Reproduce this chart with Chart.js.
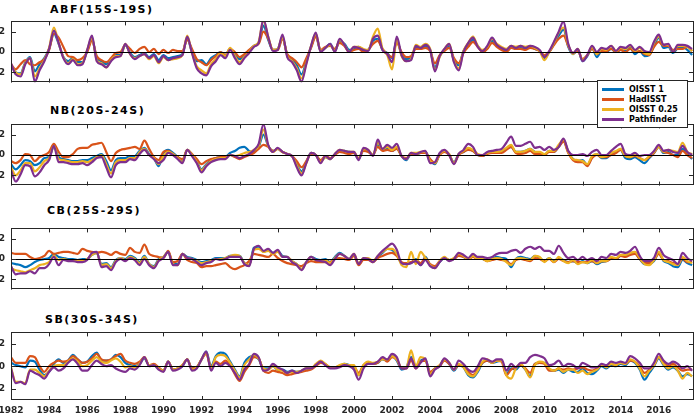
<!DOCTYPE html>
<html>
<head>
<meta charset="utf-8">
<script src="https://cdn.jsdelivr.net/npm/chart.js@4.4.1/dist/chart.umd.min.js"></script>
<style>
  html, body { margin: 0; padding: 0; background: #fff; }
  body { position: relative; width: 697px; height: 416px; overflow: hidden; }
  canvas { position: absolute; left: -20px; }
  .ttl { position: absolute; font-family: "DejaVu Sans", sans-serif; font-weight: bold; font-size: 11px; line-height: 11px; letter-spacing: 1.5px; color: #000; white-space: nowrap; }
  #legend { position: absolute; left: 597px; top: 80px; width: 89px; height: 46px; border: 1px solid #262626; background: #fff; z-index: 5; }
  .lrow { position: absolute; left: 0; height: 10px; width: 89px; }
  .lline { position: absolute; left: 4px; top: 4px; width: 22px; height: 3px; }
  .ltxt { position: absolute; left: 31px; top: 0; font-family: "DejaVu Sans", sans-serif; font-weight: bold; font-size: 8px; line-height: 11px; color: #000; white-space: nowrap; }
</style>
</head>
<body>
<div class="ttl" style="left:50px;top:4px">ABF(15S-19S)</div>
<div class="ttl" style="left:50px;top:105px">NB(20S-24S)</div>
<div class="ttl" style="left:47px;top:205px">CB(25S-29S)</div>
<div class="ttl" style="left:45px;top:314px">SB(30S-34S)</div>
<canvas id="c1" width="720" height="84" style="top:10px"></canvas>
<canvas id="c2" width="720" height="84" style="top:113px"></canvas>
<canvas id="c3" width="720" height="84" style="top:217px"></canvas>
<canvas id="c4" width="720" height="95" style="top:321px"></canvas>
<div id="legend"></div>
<script>
// ---- categories / ticks ----
const seriesNames = ['OISST 1', 'HadISST', 'OISST 0.25', 'Pathfinder'];
const panelTitles = ['ABF(15S-19S)', 'NB(20S-24S)', 'CB(25S-29S)', 'SB(30S-34S)'];
const xTickValues = [1982,1984,1986,1988,1990,1992,1994,1996,1998,2000,2002,2004,2006,2008,2010,2012,2014,2016];
const yTickValues = [-2, 0, 2];
// quarterly time stamps, 1982.00 ... 2017.75
const quarters = Array.from({length: 144}, (_, i) => 1982 + i / 4);

// ---- ABF(15S-19S) ----
const abfOisst1 = [-1.3,-2.0,-2.1,-1.0, -0.5,-1.9,-1.2,-0.6, 0.3,1.8,0.8,-0.5, -0.9,-0.6,-1.0,-1.0, 0.1,1.3,-0.6,-0.9, -1.2,-0.7,-0.3,-0.3, 0.7,-0.1,-0.5,-0.3, -0.1,-0.5,-0.2,-0.8, -0.3,-0.6,-0.5,-0.4, -0.2,1.3,0.0,-0.9, -0.8,-1.2,-0.6,-0.3, 0.0,-0.3,0.3,-0.3, -0.7,-0.3,0.1,0.6, 0.9,2.6,1.2,0.2, 0.3,1.4,-0.3,-0.7, -1.3,-2.2,-0.9,0.5, 1.6,0.1,0.4,0.8, 0.1,1.1,0.8,0.2,
 0.3,0.5,0.1,0.2, 1.1,1.3,0.2,-0.1, -0.6,1.2,-0.3,-0.7, -0.6,0.5,0.4,0.6, 0.2,-1.5,-0.4,0.2, 0.6,-0.8,-1.3,0.1, 0.7,1.2,0.6,0.0, 0.4,1.1,0.7,0.3, 0.1,0.5,0.3,0.4, 0.3,0.5,0.3,0.1, -0.6,0.0,0.8,1.6, 2.2,0.5,-0.2,0.2, -0.9,-0.4,0.4,-0.5, 0.1,0.0,0.3,0.0, 0.2,0.1,0.4,-0.2, 0.1,-0.4,-0.3,0.6, 1.4,0.4,0.5,-0.1, 0.4,0.5,0.2,-0.3];
const abfHadisst = [-1.2,-1.7,-1.2,-0.8, -1.2,-1.3,-1.0,-0.7, 0.2,1.8,1.4,0.5, -0.4,-0.5,-0.8,-0.6, 0.0,1.1,-0.4,-0.8, -1.0,-0.6,-0.1,0.0, 0.7,0.3,-0.1,0.3, 0.5,0.0,0.3,-0.2, 0.2,-0.1,0.2,0.1, 0.1,1.2,0.3,-0.7, -1.0,-1.3,-0.8,-0.4, 0.0,-0.3,0.3,0.0, -0.5,-0.2,0.2,0.6, 0.8,2.0,1.3,0.2, 0.2,1.3,-0.2,-0.6, -1.0,-1.5,-0.6,0.4, 1.5,0.2,0.5,0.6, 0.3,0.9,0.6,0.0,
 0.2,0.3,0.0,0.2, 0.8,1.1,0.3,-0.2, -0.5,0.9,0.0,-0.5, -0.4,0.3,0.3,0.4, 0.1,-1.1,-0.3,0.1, 0.4,-0.6,-1.1,-0.1, 0.5,1.0,0.5,0.0, 0.3,0.9,0.5,0.2, 0.0,0.4,0.3,0.3, 0.2,0.4,0.3,0.1, -0.3,0.0,0.7,1.3, 1.6,0.6,-0.1,0.1, -0.7,-0.3,0.3,-0.2, 0.1,0.1,0.3,0.0, 0.2,0.0,0.3,0.0, 0.1,-0.2,-0.3,0.5, 1.0,0.6,0.6,0.2, 0.3,0.3,0.5,0.1];
const abfOisst025 = [-1.2,-2.0,-2.2,-1.1, -0.6,-2.4,-1.6,-0.8, 0.4,2.4,0.9,-0.5, -1.1,-0.7,-1.2,-1.1, 0.2,1.4,-0.8,-1.1, -1.5,-0.8,-0.4,-0.4, 0.8,-0.2,-0.6,-0.4, -0.2,-0.7,-0.4,-1.1, -0.5,-0.8,-0.7,-0.6, -0.3,1.6,-0.1,-1.4, -1.8,-2.1,-1.2,-0.7, -0.1,-0.4,0.4,-0.4, -1.0,-0.5,0.0,0.6, 1.0,3.1,1.5,0.2, 0.3,1.5,-0.4,-0.9, -1.6,-2.6,-1.1,0.6, 1.8,0.1,0.4,0.7, 0.1,1.2,0.7,0.0,
 0.5,0.5,0.3,0.2, 1.5,2.3,0.3,-0.3, -1.7,1.2,-0.4,-0.9, -0.7,0.7,0.5,0.8, 0.3,-1.8,-0.5,0.3, 0.8,-0.9,-1.6,0.1, 0.9,1.5,0.6,0.2, 0.5,1.3,0.8,0.5, 0.3,0.6,0.5,0.6, 0.5,0.6,0.4,0.1, -0.8,0.0,0.9,1.9, 2.4,0.7,-0.2,0.3, -0.8,-0.3,0.5,-0.2, 0.3,0.2,0.6,0.1, 0.4,0.3,0.6,0.1, 0.4,-0.1,-0.2,0.9, 1.5,0.7,0.7,0.0, 0.6,0.6,0.5,0.1];
const abfPathfinder = [-1.1,-2.2,-2.4,-1.2, -0.6,-2.9,-1.8,-0.9, 0.3,2.1,0.9,-0.6, -1.2,-0.8,-1.3,-1.2, 0.2,1.6,-0.9,-1.2, -1.5,-0.9,-0.5,-0.4, 0.8,-0.2,-0.7,-0.4, -0.2,-0.6,-0.3,-1.0, -0.4,-0.8,-0.6,-0.5, -0.3,1.5,-0.1,-1.6, -2.1,-2.3,-1.4,-0.9, -0.3,-0.6,0.2,-0.6, -1.2,-0.6,-0.1,0.5, 0.9,3.2,1.5,0.1, 0.2,1.7,-0.5,-1.0, -1.8,-2.9,-1.2,0.6, 1.9,0.0,0.4,0.8, 0.0,1.3,0.7,0.0,
 0.5,0.4,0.2,0.1, 1.3,1.6,0.2,-0.2, -1.0,1.5,-0.3,-0.9, -0.8,0.6,0.4,0.7, 0.2,-1.9,-0.4,0.3, 0.8,-1.0,-1.8,0.0, 0.9,1.4,0.5,0.1, 0.6,1.4,0.7,0.4, 0.2,0.6,0.4,0.6, 0.4,0.6,0.5,0.2, -0.5,0.1,1.0,2.0, 3.0,0.8,-0.1,0.3, -0.9,-0.3,0.6,0.0, 0.4,0.3,0.6,0.1, 0.5,0.4,0.7,0.2, 0.5,0.1,0.0,1.0, 1.7,0.7,0.8,0.0, 0.7,0.7,0.6,0.3];

// ---- NB(20S-24S) ----
const nbOisst1 = [-0.9,-1.4,-1.0,-0.5, -0.6,-1.0,-0.8,-0.3, -0.2,0.8,-0.2,-0.4, -0.5,-0.6,-0.6,-0.5, -0.5,-0.3,-0.1,0.1, -0.6,-1.5,-0.5,-0.3, -0.3,-0.1,-0.1,0.4, 0.7,0.1,-0.3,-1.1, 0.2,0.5,0.2,-0.2, -0.6,0.5,0.0,-0.6, -1.4,-0.9,-0.5,-0.3, -0.2,-0.2,0.2,0.4, 0.7,0.8,0.4,0.3, 0.8,2.0,0.9,0.4, 0.6,0.3,0.1,-0.1, -0.9,-1.6,-0.7,0.2, 0.0,-0.6,-0.2,-0.4, 0.1,0.4,0.4,0.3,
 0.2,-0.4,0.5,0.4, 0.0,1.0,0.5,0.6, 0.4,0.7,-0.1,-0.5, 0.1,0.1,0.2,0.3, -0.5,-0.9,0.1,0.4, 0.0,-0.7,0.1,0.3, 0.6,0.4,0.0,-0.1, 0.2,0.3,0.2,0.3, 0.6,0.8,0.3,0.3, 0.4,0.6,0.3,0.2, 0.0,0.4,0.3,0.8, 1.4,0.3,-0.4,-0.6, -0.5,-1.0,-0.2,0.1, -0.3,-0.3,0.1,0.3, 0.5,-0.3,-0.4,-0.2, -0.5,-0.8,-0.3,0.2, 0.8,0.2,0.3,0.0, 0.0,0.6,0.1,-0.4];
const nbHadisst = [-0.6,-0.8,-0.5,0.1, 0.0,-0.6,-0.2,0.0, 0.3,1.1,0.3,-0.2, -0.2,0.1,0.6,0.7, 0.7,1.0,1.1,1.2, 0.3,-0.6,0.2,0.5, 0.6,0.7,0.8,0.6, 1.4,0.6,-0.2,-0.5, 0.3,0.4,0.1,-0.2, -0.4,0.5,0.1,-0.4, -0.9,-0.6,-0.4,-0.3, -0.2,-0.2,0.0,-0.2, -0.4,-0.2,0.0,0.2, 0.6,1.0,0.8,0.4, 0.6,0.3,0.1,-0.1, -0.6,-1.2,-0.6,0.1, 0.0,-0.5,-0.1,-0.3, 0.0,0.3,0.2,0.1,
 0.2,-0.3,0.4,0.3, 0.0,0.8,0.4,0.5, 0.4,0.6,-0.1,-0.3, 0.1,0.1,0.2,0.2, -0.4,-0.8,0.0,0.3, 0.0,-0.8,0.0,0.3, 0.5,0.4,0.0,-0.1, 0.1,0.2,0.2,0.2, 0.5,0.8,0.2,0.1, 0.2,0.4,0.1,0.1, 0.0,0.3,0.3,0.8, 1.3,0.2,-0.5,-0.7, -0.7,-1.1,-0.3,0.0, -0.2,-0.2,0.0,0.2, 0.5,-0.1,-0.2,-0.1, -0.3,-0.5,-0.2,0.2, 0.8,0.3,0.2,0.0, -0.2,0.4,0.0,-0.3];
const nbOisst025 = [-1.2,-2.0,-1.5,-0.8, -0.8,-1.6,-1.2,-0.6, -0.3,0.9,-0.4,-0.5, -0.6,-0.7,-0.7,-0.6, -0.7,-0.5,-0.2,0.0, -0.9,-1.8,-0.7,-0.5, -0.5,-0.3,-0.3,0.3, 0.6,0.0,-0.3,-0.9, -0.1,0.3,0.1,-0.3, -0.7,0.5,0.0,-0.7, -1.5,-1.0,-0.6,-0.4, -0.3,-0.3,0.0,-0.1, 0.0,0.2,0.3,0.5, 0.9,2.5,0.9,0.3, 0.6,0.3,0.1,-0.1, -1.0,-1.8,-0.8,0.2, 0.0,-0.7,-0.2,-0.4, 0.1,0.5,0.4,0.3,
 0.3,-0.4,0.6,0.5, 0.0,1.2,0.6,0.8, 0.5,0.8,-0.1,-0.4, 0.2,0.2,0.3,0.3, -0.6,-0.8,0.1,0.4, 0.1,-0.8,0.1,0.4, 0.7,0.5,0.1,0.0, 0.2,0.3,0.3,0.4, 0.7,1.0,0.3,0.3, 0.4,0.6,0.3,0.3, 0.1,0.4,0.4,1.0, 1.5,0.3,-0.4,-0.5, -0.6,-0.9,-0.1,0.1, -0.2,-0.1,0.2,0.4, 0.6,-0.1,-0.2,0.0, -0.3,-0.5,-0.1,0.3, 0.8,0.3,0.5,0.4, 0.3,1.2,0.3,0.1];
const nbPathfinder = [-1.5,-2.6,-1.9,-1.0, -1.1,-2.1,-1.7,-1.0, -0.5,0.9,-0.7,-0.7, -0.8,-0.9,-0.9,-0.8, -1.0,-0.7,-0.3,-0.2, -1.2,-2.2,-1.0,-0.7, -0.7,-0.4,-0.5,0.1, 0.5,0.0,-0.4,-0.8, -0.5,0.2,0.0,-0.4, -0.8,0.5,-0.1,-0.8, -1.7,-1.1,-0.7,-0.5, -0.4,-0.4,0.0,-0.1, -0.3,-0.1,0.1,0.5, 1.1,3.0,1.0,0.3, 0.7,0.3,0.1,-0.1, -1.2,-2.0,-0.8,0.2, 0.0,-0.8,-0.1,-0.4, 0.1,0.5,0.4,0.3,
 0.3,-0.5,0.7,0.5, -0.1,1.5,0.6,1.0, 0.7,1.1,-0.1,-0.4, 0.2,0.1,0.3,0.4, -0.8,-0.7,0.2,0.5, 0.0,-0.9,0.1,0.5, 1.1,0.8,0.0,0.0, 0.3,0.4,0.5,0.6, 1.2,1.8,0.9,0.9, 1.1,1.3,0.7,0.8, 0.5,0.8,0.5,0.8, 1.6,0.4,0.0,0.0, 0.1,-0.1,0.3,0.5, 0.0,0.0,0.4,0.8, 1.1,0.1,0.0,0.2, -0.1,0.0,0.0,0.4, 1.0,0.4,0.5,0.3, 0.2,0.9,0.3,0.0];

// ---- CB(25S-29S) ----
const cbOisst1 = [-0.4,-0.5,-0.6,-0.8, -0.6,-0.3,-0.1,0.0, 0.1,0.5,0.2,0.1, 0.0,0.0,-0.1,0.0, 0.0,0.4,0.6,-0.5, -0.4,-0.8,-0.1,0.1, 0.0,0.3,0.1,-0.3, 0.3,-0.5,-0.7,0.0, 0.2,0.7,-0.5,-0.5, 0.5,0.2,0.1,-0.1, -0.3,-0.2,-0.1,0.1, 0.1,0.1,0.3,0.3, 0.3,-0.4,-0.6,1.1, 1.2,0.7,0.9,0.6, 0.8,0.3,0.2,-0.2, -0.5,-1.0,-0.3,0.2, 0.0,-0.1,0.0,-0.3, 0.2,0.6,0.3,0.0,
 0.4,-0.5,0.0,0.0, -0.3,0.2,0.6,1.0, 0.9,0.4,-0.4,-0.5, -0.4,0.0,-0.6,0.2, -0.6,-0.8,-0.3,0.1, -0.1,0.0,0.4,0.2, 0.0,0.3,0.1,0.0, -0.1,0.0,0.2,0.1, 0.0,-0.8,0.0,0.2, 0.1,0.0,0.3,0.1, -0.2,0.1,-0.2,0.1, -0.1,-0.3,-0.2,-0.4, -0.2,-0.4,-0.2,-0.5, -0.3,-0.2,0.1,0.0, 0.3,0.3,0.5,0.6, 0.0,-0.5,-0.5,-0.2, 0.6,-0.2,-0.4,-0.7, -0.8,-0.1,-0.4,-0.6];
const cbHadisst = [0.6,0.5,0.5,0.5, 0.2,0.0,0.1,0.3, 0.8,0.5,0.6,0.7, 0.7,0.6,0.5,1.0, 0.8,0.7,0.6,0.7, 0.6,0.4,0.7,0.5, 0.4,1.1,0.7,0.6, 1.4,0.5,0.3,0.2, 0.1,0.8,-0.3,-0.2, 0.5,-0.1,-0.3,-0.4, -0.8,-0.7,-0.7,-0.6, -0.5,-0.4,-0.8,-1.0, -0.8,-0.6,-0.2,0.5, 0.4,0.3,0.2,0.5, 0.1,-0.2,-0.4,-0.5, -0.6,-0.7,-0.4,-0.2, -0.3,-0.3,-0.3,-0.3, 0.0,0.1,0.0,-0.1,
 0.3,-0.6,-0.1,-0.1, -0.3,0.1,0.3,0.5, 0.6,0.3,-0.3,-0.4, -0.3,-0.1,-0.4,0.1, -0.5,-0.7,-0.2,0.1, -0.1,0.0,0.3,0.2, 0.0,0.2,0.0,0.0, -0.2,-0.1,0.0,-0.1, -0.2,-0.5,-0.1,0.0, -0.1,-0.2,0.1,0.0, -0.2,0.0,-0.3,0.0, -0.2,-0.3,-0.2,-0.3, -0.3,-0.3,-0.2,-0.4, -0.2,-0.2,0.0,0.0, 0.3,0.2,0.4,0.5, 0.0,-0.4,-0.4,-0.1, 0.5,-0.1,-0.2,-0.4, -0.5,0.0,-0.3,-0.3];
const cbOisst025 = [-0.9,-1.1,-1.2,-1.3, -1.1,-0.9,-0.6,-0.5, -0.3,0.3,-0.1,0.0, -0.1,-0.1,-0.2,-0.2, 0.0,0.4,0.6,-0.6, -0.5,-0.9,-0.2,0.1, -0.1,0.2,0.0,-0.4, 0.2,-0.5,-0.8,-0.1, 0.2,0.7,-0.5,-0.6, 0.5,0.1,0.0,-0.2, -0.4,-0.3,-0.2,0.0, 0.0,0.1,0.3,0.4, 0.3,-0.4,-0.6,0.9, 1.0,0.7,0.8,0.5, 0.7,0.2,0.2,-0.2, -0.5,-1.0,-0.3,0.2, -0.1,-0.1,-0.1,-0.4, 0.1,0.5,0.3,0.0,
 0.5,-0.4,0.1,0.1, -0.2,0.3,0.7,1.0, 1.0,0.5,-0.6,-0.8, 0.7,-0.5,0.7,0.1, -0.6,-0.9,-0.2,0.2, -0.1,0.1,0.5,0.3, 0.0,0.3,0.0,0.0, -0.2,0.0,0.1,0.0, -0.3,-0.6,0.0,0.1, 0.0,-0.1,0.3,0.2, -0.3,0.1,-0.3,0.2, -0.2,-0.4,-0.1,-0.5, -0.3,-0.4,-0.1,-0.4, -0.2,-0.2,0.2,0.1, 0.4,0.4,0.6,0.7, 0.1,-0.5,-0.6,-0.1, 0.7,-0.1,-0.3,-0.5, -0.6,0.2,-0.2,-0.4];
const cbPathfinder = [-0.7,-1.5,-1.4,-1.4, -1.2,-1.4,-0.9,-0.9, -0.5,0.2,-0.6,-0.1, -0.2,-0.2,-0.3,-0.3, -0.1,0.6,0.7,-0.8, -0.7,-1.1,-0.3,0.0, -0.2,0.1,-0.1,-0.6, 0.0,-0.6,-0.9,-0.2, 0.1,0.7,-0.6,-0.6, 0.5,0.1,0.0,-0.3, -0.6,-0.4,-0.3,0.0, -0.1,0.0,0.2,0.2, 0.2,-0.5,-0.7,1.0, 1.3,0.8,1.0,0.6, 0.9,0.2,0.2,-0.3, -0.6,-1.1,-0.3,0.2, -0.1,-0.2,-0.3,-0.6, 0.0,0.5,0.3,0.0,
 0.5,-0.5,0.1,0.0, -0.3,0.3,0.8,1.2, 1.5,0.9,-0.4,-0.5, -0.4,-0.2,-0.6,-0.1, -0.7,-0.9,-0.3,0.1, -0.2,0.0,0.6,0.4, 0.1,0.5,0.2,0.2, 0.1,0.2,0.5,0.6, 0.6,0.8,0.9,0.6, 1.0,1.2,1.0,1.2, 0.8,0.8,0.5,1.3, 0.6,0.1,0.2,-0.1, 0.2,-0.1,0.1,-0.2, 0.2,0.1,0.5,0.4, 0.7,0.6,0.8,1.2, 0.3,-0.2,-0.2,0.1, 1.1,0.4,0.1,-0.1, -0.5,0.6,0.1,-0.2];

// ---- SB(30S-34S) ----
const sbOisst1 = [0.3,0.1,0.0,-0.1, 0.5,0.4,-0.3,-0.8, -0.5,0.2,0.6,0.3, 0.5,1.0,0.6,0.3, 0.4,0.9,1.2,0.5, 0.5,0.6,1.0,0.8, 0.3,0.1,0.0,0.2, 0.7,0.1,0.1,-0.2, -0.4,0.4,-0.3,-0.2, 0.0,0.6,-0.2,-0.1, 0.6,1.3,0.0,0.9, 1.2,1.1,0.4,-0.3, -0.9,0.3,0.8,0.9, 0.6,-0.2,-0.2,0.0, -0.3,-0.3,-0.5,-0.4, -0.5,-0.4,-0.2,-0.2, 0.1,0.4,0.1,-0.1, -0.1,0.0,0.2,0.1,
 -0.1,-0.8,0.0,0.3, 0.2,0.3,0.6,0.5, 0.9,0.5,-0.3,-0.1, 0.8,0.0,0.5,0.6, -0.6,-0.2,0.0,0.6, 0.2,-0.4,0.1,-0.1, -0.8,-1.0,-0.5,0.3, 0.5,0.3,0.4,0.5, -0.7,-0.2,-0.3,0.1, -0.3,-0.9,0.2,0.3, 0.3,-0.3,-0.4,-0.3, -0.6,-0.3,-0.5,-0.5, -0.2,-0.6,-0.7,-0.4, 0.0,-0.2,0.1,0.0, 0.2,0.1,0.5,0.3, -0.3,-1.2,-0.6,0.0, 0.7,0.1,-0.3,-0.1, -0.4,-0.9,-0.7,-0.9];
const sbHadisst = [0.8,0.3,0.3,0.3, 0.9,0.8,0.0,-0.5, 0.0,0.3,0.5,0.4, 0.5,0.9,0.6,0.3, 0.4,0.7,1.1,0.6, 0.5,0.6,0.9,1.1, 0.5,0.3,0.2,0.4, 0.8,0.1,0.2,-0.1, -0.4,0.4,-0.3,-0.2, 0.1,0.6,-0.2,-0.1, 0.6,1.1,-0.1,0.4, 0.2,0.5,0.1,-0.7, -1.3,-0.5,0.1,0.8, 0.7,-0.4,-0.6,-0.4, -0.5,-0.6,-0.8,-0.7, -0.6,-0.5,-0.4,-0.3, 0.0,0.3,0.2,-0.1, -0.1,0.0,0.1,0.1,
 0.0,-0.6,0.1,0.3, 0.2,0.3,0.7,0.4, 0.8,0.6,-0.2,-0.2, 0.5,-0.2,0.4,0.5, -0.5,-0.2,0.0,0.5, 0.2,-0.3,0.1,0.0, -0.5,-0.8,-0.3,0.3, 0.5,0.3,0.5,0.4, -0.8,-0.3,-0.1,0.1, -0.2,-0.6,0.2,0.3, 0.2,-0.4,-0.4,-0.2, -0.3,-0.2,-0.3,-0.2, -0.1,-0.3,-0.4,-0.2, 0.1,0.0,0.2,0.1, 0.3,0.2,0.5,0.4, 0.0,-0.6,-0.3,0.1, 0.8,0.3,0.0,0.2, -0.1,-0.4,-0.3,-0.3];
const sbOisst025 = [-0.1,-1.4,-1.4,-1.5, -0.3,-0.3,-0.6,-0.9, -0.4,0.0,0.1,0.1, 0.4,0.7,0.4,0.0, 0.1,0.5,0.8,0.4, 0.3,0.5,0.7,0.4, -0.1,0.0,-0.1,0.2, 0.8,0.1,0.1,-0.2, -0.4,0.4,-0.3,-0.2, 0.1,0.6,-0.3,-0.1, 0.6,1.2,-0.2,0.8, 1.0,0.9,0.3,-0.4, -1.0,0.1,0.6,1.0, 0.7,-0.2,-0.3,0.0, -0.3,-0.4,-0.6,-0.5, -0.5,-0.4,-0.2,-0.2, 0.2,0.5,0.2,-0.1, -0.1,0.1,0.2,0.1,
 0.1,-0.8,0.1,0.4, 0.3,0.4,0.6,0.6, 0.9,0.6,-0.1,-0.1, 1.4,0.0,0.8,0.6, -0.7,-0.2,0.1,0.6, 0.3,-0.3,0.2,-0.1, -0.7,-0.9,-0.4,0.4, 0.6,0.3,0.5,0.5, -0.8,-1.1,-0.2,0.2, -0.3,-1.0,0.1,0.4, 0.3,-0.2,-0.4,-0.2, -0.5,-0.3,-0.3,-0.6, -0.4,-0.7,-0.5,-0.3, 0.1,-0.1,0.2,0.1, 0.3,0.2,0.6,0.4, -0.2,-0.9,-0.4,0.1, 0.8,0.2,-0.2,0.0, -0.4,-1.1,-0.6,-0.9];
const sbPathfinder = [-0.2,-1.5,-1.4,-1.6, -0.4,-0.6,-0.8,-1.1, -0.5,-0.1,-0.4,-0.2, 0.3,0.6,0.2,-0.4, -0.4,0.1,0.5,0.2, 0.0,0.1,-0.2,-0.4, -0.5,-0.2,-0.3,0.1, 0.8,0.0,0.1,-0.3, -0.5,0.4,-0.4,-0.3, 0.0,0.6,-0.4,-0.2, 0.6,1.3,-0.4,0.3, 0.0,0.3,0.0,-0.6, -1.2,-0.3,0.2,1.1, 0.8,-0.4,-0.3,0.2, -0.1,-0.3,-0.6,-0.4, -0.6,-0.4,-0.2,-0.2, 0.1,0.4,0.1,-0.2, -0.2,-0.1,0.1,0.0,
 -0.3,-1.2,-0.2,0.2, 0.2,0.4,0.8,0.6, 1.1,0.8,-0.2,-0.2, 0.7,-0.2,0.3,0.7, -0.9,-0.3,0.0,0.7, 0.3,-0.3,0.5,0.2, -0.3,-0.5,0.0,0.7, 0.6,0.4,0.6,0.6, -0.4,0.2,-0.1,0.3, 0.3,0.8,1.0,0.9, 0.7,0.1,0.2,0.5, 0.0,0.2,0.1,-0.2, 0.3,0.1,-0.1,-0.1, 0.2,0.1,0.4,0.3, 0.4,0.3,0.9,0.7, 0.3,-0.2,-0.2,0.3, 1.1,0.5,0.2,0.4, 0.2,-0.2,0.0,-0.4];

// ---- styling ----
const seriesColors = ['#0072BD', '#D95319', '#EDB120', '#7E2F8E'];
const axisColor = '#262626';
const tickFont = { family: 'DejaVu Sans', weight: 'bold', size: 9 };

const framePlugin = {
  id: 'matlabFrame',
  afterDatasetsDraw(chart) {
    const { ctx, chartArea: a, scales } = chart;
    const xs = scales.x, ys = scales.y;
    ctx.save();
    // zero line
    const y0 = Math.round(ys.getPixelForValue(0)) + 0.5;
    ctx.strokeStyle = '#000';
    ctx.lineWidth = 1.2;
    ctx.beginPath(); ctx.moveTo(a.left, y0); ctx.lineTo(a.right, y0); ctx.stroke();
    // box
    ctx.strokeStyle = axisColor;
    ctx.lineWidth = 1;
    ctx.strokeRect(Math.round(a.left) + 0.5, Math.round(a.top) + 0.5,
                   Math.round(a.right - a.left) - 1, Math.round(a.bottom - a.top) - 1);
    // inward tick marks
    ctx.beginPath();
    xTickValues.forEach(v => {
      const px = Math.round(xs.getPixelForValue(v)) + 0.5;
      ctx.moveTo(px, a.top); ctx.lineTo(px, a.top + 4);
      ctx.moveTo(px, a.bottom); ctx.lineTo(px, a.bottom - 4);
    });
    yTickValues.forEach(v => {
      const py = Math.round(ys.getPixelForValue(v)) + 0.5;
      ctx.moveTo(a.left, py); ctx.lineTo(a.left + 5, py);
      ctx.moveTo(a.right, py); ctx.lineTo(a.right - 5, py);
    });
    ctx.stroke();
    ctx.restore();
  }
};

function xy(values) { return values.map((v, i) => ({ x: quarters[i], y: v })); }

function makePanel(canvasId, series, showX) {
  const datasets = series.map((vals, i) => ({
    label: seriesNames[i],
    data: xy(vals),
    borderColor: seriesColors[i],
    backgroundColor: seriesColors[i],
    borderWidth: 2.2,
    pointRadius: 0,
    fill: false,
    order: 4 - i
  }));
  return new Chart(document.getElementById(canvasId), {
    type: 'line',
    data: { datasets },
    options: {
      responsive: false,
      animation: false,
      devicePixelRatio: 1,
      events: [],
      layout: { padding: { left: 0, right: 6, top: 5, bottom: showX ? 0 : 5 } },
      elements: { line: { cubicInterpolationMode: 'monotone' } },
      plugins: { legend: { display: false }, tooltip: { enabled: false }, title: { display: false } },
      scales: {
        x: {
          type: 'linear', min: 1982, max: 2017.85,
          grid: { display: false, drawTicks: false }, border: { display: false },
          afterBuildTicks: s => { s.ticks = xTickValues.map(v => ({ value: v })); },
          ticks: { display: showX, autoSkip: false, maxRotation: 0, padding: 5,
                   font: tickFont, color: axisColor, callback: v => String(v) },
          afterFit: s => { s.height = showX ? 16 : 0; }
        },
        y: {
          min: -3, max: 3,
          grid: { display: false, drawTicks: false }, border: { display: false },
          afterBuildTicks: s => { s.ticks = yTickValues.map(v => ({ value: v })); },
          ticks: { padding: 6, font: tickFont, color: axisColor, callback: v => String(v) },
          afterFit: s => { s.width = 31; }
        }
      }
    },
    plugins: [framePlugin]
  });
}

makePanel('c1', [abfOisst1, abfHadisst, abfOisst025, abfPathfinder], false);
makePanel('c2', [nbOisst1, nbHadisst, nbOisst025, nbPathfinder], false);
makePanel('c3', [cbOisst1, cbHadisst, cbOisst025, cbPathfinder], false);
makePanel('c4', [sbOisst1, sbHadisst, sbOisst025, sbPathfinder], true);

// legend (HTML, real text)
const legend = document.getElementById('legend');
seriesNames.forEach((name, i) => {
  const row = document.createElement('div');
  row.className = 'lrow';
  row.style.top = (2.5 + 10.3 * i) + 'px';
  const line = document.createElement('span');
  line.className = 'lline';
  line.style.background = seriesColors[i];
  const txt = document.createElement('span');
  txt.className = 'ltxt';
  txt.textContent = name;
  row.appendChild(line); row.appendChild(txt);
  legend.appendChild(row);
});
</script>
</body>
</html>
